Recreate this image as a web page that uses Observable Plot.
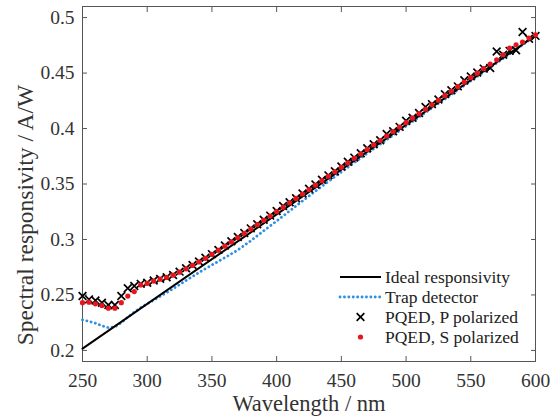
<!DOCTYPE html>
<html><head><meta charset="utf-8">
<script src="https://cdn.jsdelivr.net/npm/d3@7"></script>
<script src="https://cdn.jsdelivr.net/npm/@observablehq/plot@0.6"></script>
<style>
body{margin:0;background:#fff}
#chart{position:relative;width:557px;height:416px}
#chart svg, #chart svg text{font-family:"Liberation Serif","DejaVu Serif","Times New Roman",serif !important}
</style>
</head><body><div id="chart"></div>
<script>
// Wavelength grid of the PQED measurements (nm)
const wavelengths = [250,255,260,265,270,275,280,285,290,295,300,305,310,315,320,325,330,335,340,345,350,355,360,365,370,375,380,385,390,395,400,405,410,415,420,425,430,435,440,445,450,455,460,465,470,475,480,485,490,495,500,505,510,515,520,525,530,535,540,545,550,555,560,565,570,575,580,585,590,595,600];
// PQED, P polarized (A/W)
const pqedP = [0.249,0.246,0.245,0.243,0.241,0.241,0.249,0.256,0.258,0.260,0.261,0.263,0.2645,0.266,0.268,0.271,0.274,0.277,0.2802,0.2835,0.2868,0.2906,0.2945,0.2984,0.3022,0.3059,0.3100,0.3137,0.3178,0.3215,0.3256,0.3302,0.3336,0.3372,0.3415,0.3458,0.3495,0.3538,0.3578,0.3615,0.3657,0.3700,0.3738,0.3778,0.3822,0.3858,0.3895,0.3950,0.3975,0.4015,0.4070,0.4098,0.4140,0.4195,0.4220,0.4262,0.4310,0.4345,0.4380,0.4435,0.4470,0.4505,0.4540,0.4545,0.4695,0.4665,0.4700,0.4705,0.4870,0.4810,0.4835];
// PQED, S polarized (A/W)
const pqedS = [0.243,0.2435,0.242,0.2405,0.238,0.238,0.243,0.249,0.253,0.259,0.2605,0.2625,0.2642,0.2658,0.2678,0.2705,0.2735,0.2766,0.2798,0.2830,0.2865,0.2902,0.2940,0.2978,0.3017,0.3055,0.3094,0.3133,0.3173,0.3211,0.3251,0.3290,0.3330,0.3370,0.3410,0.3450,0.3490,0.3530,0.3570,0.3610,0.3650,0.3690,0.3731,0.3771,0.3812,0.3852,0.3892,0.3932,0.3972,0.4013,0.4053,0.4093,0.4134,0.4174,0.4214,0.4255,0.4296,0.4336,0.4377,0.4418,0.4458,0.4499,0.4540,0.4580,0.4620,0.4665,0.4725,0.4755,0.4780,0.4815,0.4845];
// Trap detector
const trapWl = [250,255,260,265,270,275,280,285,290,295,300,310,320,330,340,350,360,370,380,390,400,410,420,430,440,450,460,470,480,490,500,520,540,560,580,600];
const trapR  = [0.2275,0.2262,0.2245,0.2222,0.2205,0.2212,0.2250,0.2300,0.2345,0.2385,0.2420,0.2487,0.2556,0.2630,0.2702,0.2770,0.2836,0.2905,0.2988,0.3078,0.3166,0.3257,0.3347,0.3436,0.3523,0.3608,0.3693,0.3776,0.3858,0.3940,0.4022,0.4185,0.4347,0.4510,0.4672,0.4836];
// Ideal responsivity (straight line)
const idealWl = [250,600];
const idealR  = [0.2016,0.4839];
// Ticks and labels
const xTicks = [250,300,350,400,450,500,550,600];
const yTicks = [0.2,0.25,0.3,0.35,0.4,0.45,0.5];
const xLabel = "Wavelength / nm";
const yLabel = "Spectral responsivity / A/W";
const legendLabels = ["Ideal responsivity","Trap detector","PQED, P polarized","PQED, S polarized"];

const pData = wavelengths.map((w,i)=>({w, r:pqedP[i]}));
const sData = wavelengths.map((w,i)=>({w, r:pqedS[i]}));
const tData = trapWl.map((w,i)=>({w, r:trapR[i]}));
const iData = idealWl.map((w,i)=>({w, r:idealR[i]}));

const FONT = "'Liberation Serif', 'DejaVu Serif', serif";
const BLUE = "#2f8fe3", RED = "#e8161c", AX = "#555", TXT = "#333";
const DASH = "0.1,4.3";
const fmtY = d => String(+d.toFixed(2));

const plot = Plot.plot({
  width: 557, height: 416,
  marginLeft: 82, marginRight: 22, marginTop: 6, marginBottom: 55,
  style: {fontFamily: FONT, fontSize: "19px", color: TXT, background: "#fff"},
  x: {domain: [250, 600], label: null},
  y: {domain: [0.19, 0.51], label: null},
  marks: [
    Plot.frame({stroke: AX, strokeWidth: 1}),
    Plot.axisX({anchor: "bottom", ticks: xTicks, tickSize: 0, tickPadding: 12, label: null, fill: TXT, fontSize: 19.5}),
    Plot.axisY({anchor: "left", ticks: yTicks, tickSize: 0, tickPadding: 8, tickFormat: fmtY, label: null, fill: TXT, fontSize: 19.5}),
    Plot.axisX({anchor: "bottom", ticks: xTicks, tickSize: -5, fill: "none", stroke: AX, label: null}),
    Plot.axisX({anchor: "top", ticks: xTicks, tickSize: -5, fill: "none", stroke: AX, label: null}),
    Plot.axisY({anchor: "left", ticks: yTicks, tickSize: -5, fill: "none", stroke: AX, label: null}),
    Plot.axisY({anchor: "right", ticks: yTicks, tickSize: -5, fill: "none", stroke: AX, label: null}),
    Plot.line(tData, {x: "w", y: "r", stroke: BLUE, strokeWidth: 2.8, strokeDasharray: DASH, strokeLinecap: "round"}),
    Plot.line(iData, {x: "w", y: "r", stroke: "#000", strokeWidth: 2}),
    Plot.dot(pData, {x: "w", y: "r", symbol: "times", r: 3.6, stroke: "#000", strokeWidth: 1.7}),
    Plot.dot(sData, {x: "w", y: "r", r: 2.6, fill: RED, stroke: "none"}),
    Plot.text([xLabel], {frameAnchor: "bottom", dy: 42, lineAnchor: "middle", textAnchor: "middle", fontSize: 22.5, fill: TXT}),
    Plot.text([yLabel], {frameAnchor: "left", dx: -57, dy: 31, rotate: -90, lineAnchor: "middle", textAnchor: "middle", fontSize: 23.5, fill: TXT})
  ]
});
document.getElementById("chart").appendChild(plot);

// Legend (inside the axes, lower right)
const svg = d3.select(plot);
const lg = svg.append("g").attr("font-size", 17.5).attr("fill", "#222").attr("text-anchor", "start");
const rows = [277, 297, 317, 337];
const lx0 = 340, lx1 = 381, tx = 385;
lg.append("line").attr("x1", lx0).attr("x2", lx1).attr("y1", rows[0]).attr("y2", rows[0]).attr("stroke", "#000").attr("stroke-width", 2);
lg.append("line").attr("x1", lx0).attr("x2", lx1).attr("y1", rows[1]).attr("y2", rows[1]).attr("stroke", BLUE).attr("stroke-width", 2.8).attr("stroke-dasharray", DASH).attr("stroke-linecap", "round");
lg.append("path").attr("d", d3.symbol(d3.symbolTimes, 40)()).attr("transform", `translate(${(lx0+lx1)/2},${rows[2]})`).attr("stroke", "#000").attr("stroke-width", 1.7).attr("fill", "none");
lg.append("circle").attr("cx", (lx0+lx1)/2).attr("cy", rows[3]).attr("r", 2.6).attr("fill", RED);
legendLabels.forEach((t, i) => lg.append("text").attr("x", tx).attr("y", rows[i]).attr("dy", "0.35em").attr("text-anchor", "start").text(t));
</script>
</body></html>
